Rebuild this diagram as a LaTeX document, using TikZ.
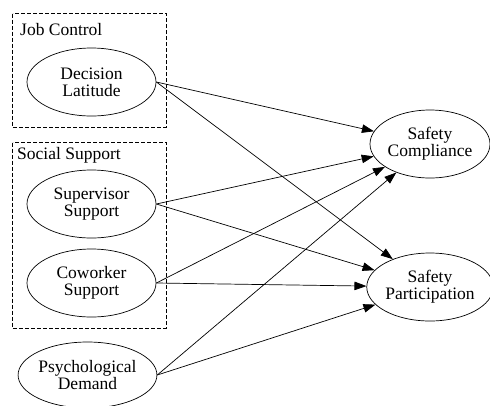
\documentclass[tikz,border=0pt]{standalone}
\usepackage{fontspec}
\setmainfont{Liberation Serif}
\usetikzlibrary{shapes.geometric,arrows.meta}
\begin{document}
\begin{tikzpicture}[x=1pt,y=-1pt,
  every node/.style={font=\fontsize{17.5}{17}\selectfont},
  var/.style={draw,ellipse,inner sep=0pt,align=center,line width=0.7pt},
  cluster/.style={draw,dash pattern=on 4pt off 2pt,line width=0.6pt},
  edge/.style={draw,line width=0.7pt,-{Triangle[length=12pt,width=8.5pt]}}]
\useasboundingbox (0,0) rectangle (490,405);
\begin{scope}
\clip (0,0) rectangle (490,405);
% clusters
\draw[cluster] (12.5,13.5) rectangle (166,127);
\node[anchor=west,inner sep=0pt] (jcl) at (20,30) {Job Control};
\draw[cluster] (12.5,142.5) rectangle (166,328);
\node[anchor=west,inner sep=0pt] (ssl) at (17,155) {Social Support};
% nodes
\node[var,minimum width=129pt,minimum height=68pt] (dl) at (91.5,82) {Decision\\Latitude};
\node[var,minimum width=129pt,minimum height=68pt] (sup) at (91.5,204) {Supervisor\\Support};
\node[var,minimum width=129pt,minimum height=68pt] (cow) at (91.5,283) {Coworker\\Support};
\node[var,minimum width=137pt,minimum height=66pt] (pd) at (87.5,375) {Psychological\\Demand};
\node[var,minimum width=120pt,minimum height=68pt] (sc) at (430,144) {Safety\\Compliance};
\node[var,minimum width=120pt,minimum height=68pt] (sp) at (430,287) {Safety\\Participation};
% edges
\draw[edge] (dl.east) -- (sc);
\draw[edge] (dl.east) -- (sp);
\draw[edge] (sup.east) -- (sc);
\draw[edge] (sup.east) -- (sp);
\draw[edge] (cow.east) -- (sc);
\draw[edge] (cow.east) -- (sp);
\draw[edge] (pd.east) -- (sc);
\draw[edge] (pd.east) -- (sp);
\end{scope}
\end{tikzpicture}
\end{document}
